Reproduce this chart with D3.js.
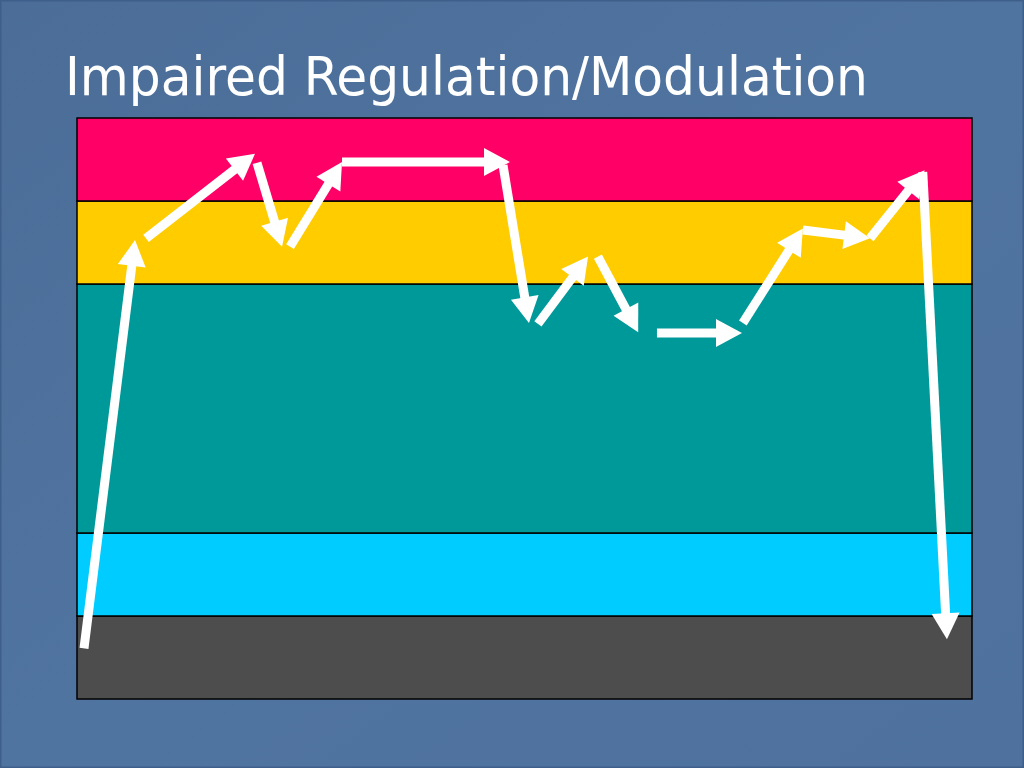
<!DOCTYPE html>
<html>
<head>
<meta charset="utf-8">
<script src="https://cdn.jsdelivr.net/npm/d3@7"></script>
<style>
html,body{margin:0;padding:0;background:#4e709c;}
svg{display:block;}
</style>
</head>
<body>
<svg id="chart" width="1024" height="768"></svg>
<script>
// Band levels (bottom to top) and colours
const bandLow  = [0, 1, 2, 5, 6];
const bandHigh = [1, 2, 5, 6, 7];
const bandColors = ["#4d4d4d", "#00ccff", "#009999", "#ffcc00", "#ff0066"];

// Arrow segments (x: 0-100 time units, y: level units)
const arrowX0 = [0.78, 7.71, 20.11, 23.80, 29.61, 47.6, 51.5, 58.2, 64.8, 74.4, 81.1, 88.6, 94.5];
const arrowY0 = [0.61, 5.55, 6.46, 5.45, 6.47, 6.43, 4.52, 5.33, 4.41, 4.53, 5.65, 5.55, 6.35];
const arrowX1 = [6.48, 19.89, 22.91, 29.61, 48.38, 50.5, 57.1, 62.7, 74.3, 81.1, 88.6, 94.7, 97.2];
const arrowY1 = [5.53, 6.57, 5.45, 6.47, 6.47, 4.53, 5.33, 4.42, 4.41, 5.67, 5.55, 6.37, 0.72];

const title = "Impaired Regulation/Modulation";

(function(){
const svg = d3.select("#chart");
const W = 1024, H = 768;

const defs = svg.append("defs");
const g1 = defs.append("linearGradient").attr("id","bg").attr("x1","0").attr("y1","0").attr("x2","1").attr("y2","1");
g1.append("stop").attr("offset","0").attr("stop-color","#4b6d98");
g1.append("stop").attr("offset","0.5").attr("stop-color","#5074a0");
g1.append("stop").attr("offset","1").attr("stop-color","#4e719d");
svg.append("rect").attr("width",W).attr("height",H).attr("fill","url(#bg)");
svg.append("rect").attr("x",0.5).attr("y",0.5).attr("width",W-1).attr("height",H-1)
  .attr("fill","none").attr("stroke","#3e5f8a").attr("stroke-width",2);

const pLeft = 77, pRight = 972, pTop = 118, pBottom = 699;
const x = d3.scaleLinear().domain([0,100]).range([pLeft,pRight]);
const y = d3.scaleLinear().domain([0,7]).range([pBottom,pTop]);

svg.append("g").selectAll("rect").data(bandLow).join("rect")
  .attr("x", x(0)).attr("width", x(100)-x(0))
  .attr("y", (d,i)=>y(bandHigh[i]))
  .attr("height", (d,i)=>y(bandLow[i]) - y(bandHigh[i]))
  .attr("fill", (d,i)=>bandColors[i])
  .attr("stroke","#000").attr("stroke-width",1.5);

svg.append("text").attr("x",65).attr("y",95)
  .attr("font-family","'DejaVu Sans Condensed', 'DejaVu Sans', sans-serif")
  .attr("font-size",54).attr("fill","#ffffff")
  .attr("textLength",803).attr("lengthAdjust","spacingAndGlyphs")
  .text(title);

const headLen = 26, headW = 14, shaftW = 9;
const ag = svg.append("g");
arrowX0.forEach((_,i)=>{
  const x0 = x(arrowX0[i]), y0 = y(arrowY0[i]);
  const x1 = x(arrowX1[i]), y1 = y(arrowY1[i]);
  const dx = x1-x0, dy = y1-y0, L = Math.hypot(dx,dy);
  const ux = dx/L, uy = dy/L, px = -uy, py = ux;
  const bx = x1 - ux*headLen, by = y1 - uy*headLen;
  ag.append("line").attr("x1",x0).attr("y1",y0).attr("x2",bx+ux*2).attr("y2",by+uy*2)
    .attr("stroke","#ffffff").attr("stroke-width",shaftW).attr("stroke-linecap","butt");
  ag.append("path")
    .attr("d", d3.line()([[x1,y1],[bx+px*headW,by+py*headW],[bx-px*headW,by-py*headW]]) + "Z")
    .attr("fill","#ffffff");
});
})();
</script>
</body>
</html>
